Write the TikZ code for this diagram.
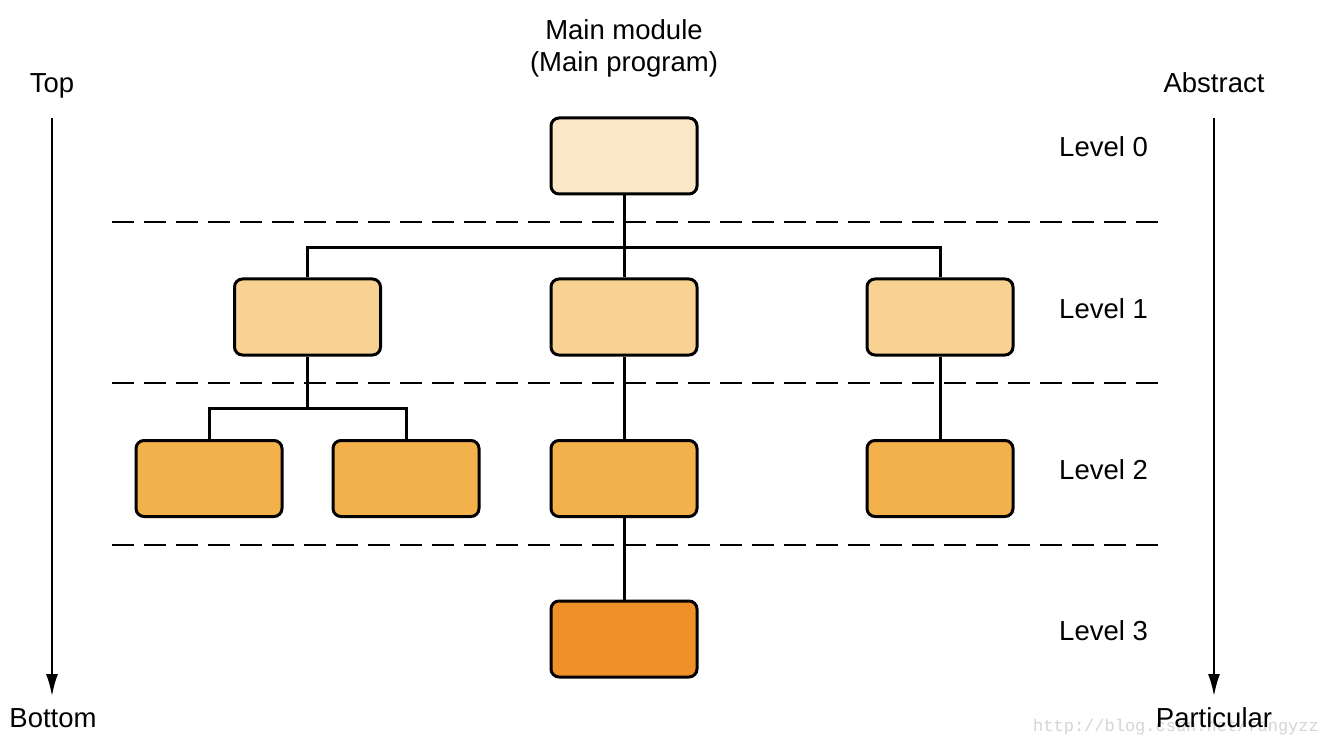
\documentclass[tikz,border=0pt]{standalone}
\usepackage{fontspec}
\setmainfont{Liberation Sans}
\newfontfamily\wmfont{Liberation Mono}
\usetikzlibrary{arrows.meta}
\definecolor{cA}{HTML}{F9E7C5}
\definecolor{cB}{HTML}{F7D292}
\definecolor{cC}{HTML}{F3B14B}
\definecolor{cD}{HTML}{EF9127}
\definecolor{wm}{HTML}{D4D4D4}
\tikzset{
  modbox/.style={draw=black, line width=3pt, rounded corners=8pt, minimum width=146pt, minimum height=76pt, inner sep=0pt},
  conn/.style={draw=black, line width=3pt},
  sep/.style={draw=black, line width=2.8pt, dash pattern=on 22pt off 10pt},
  lbl/.style={font=\fontsize{27.5}{33}\selectfont, inner sep=0pt, anchor=base},
  axis/.style={draw=black, line width=2pt, -{Latex[length=22pt,width=12pt]}}
}
\begin{document}
\begin{tikzpicture}[x=1pt,y=-1pt]
\useasboundingbox (0,0) rectangle (1326,746);
% watermark
\node[font=\wmfont\fontsize{17}{20}\selectfont, text=wm, anchor=base west, inner sep=0pt] (wmk) at (1033,731) {http://blog.csdn.net/fangyzz};
% titles
\node[lbl] (mm) at (624,40) {Main module};
\node[lbl] (mp) at (624,72) {(Main program)};
\node[lbl] (top) at (52,93) {Top};
\node[lbl] (bot) at (53,727) {Bottom};
\node[lbl] (abs) at (1214,93) {Abstract};
\node[lbl] (par) at (1214,727) {Particular};
\node[lbl, anchor=base west] (lv0) at (1059,157) {Level 0};
\node[lbl, anchor=base west] (lv1) at (1059,318) {Level 1};
\node[lbl, anchor=base west] (lv2) at (1059,479) {Level 2};
\node[lbl, anchor=base west] (lv3) at (1059,640) {Level 3};
% axes
\coordinate (ta) at (52,118); \coordinate (tb) at (52,696);
\coordinate (aa) at (1214,118); \coordinate (ab) at (1214,696);
\draw[axis] (ta) -- (tb);
\draw[axis] (aa) -- (ab);
% separators
\coordinate (s1a) at (112,222); \coordinate (s1b) at (1160,222);
\coordinate (s2a) at (112,383); \coordinate (s2b) at (1160,383);
\coordinate (s3a) at (112,545); \coordinate (s3b) at (1160,545);
\draw[sep] (s1a) -- (s1b);
\draw[sep] (s2a) -- (s2b);
\draw[sep] (s3a) -- (s3b);
% boxes
\node[modbox, fill=cA] (l0) at (624,156) {};
\node[modbox, fill=cB] (a1) at (307.5,317) {};
\node[modbox, fill=cB] (b1) at (624,317) {};
\node[modbox, fill=cB] (c1) at (940,317) {};
\node[modbox, fill=cC] (a2) at (209,478.5) {};
\node[modbox, fill=cC] (b2) at (406,478.5) {};
\node[modbox, fill=cC] (c2) at (624,478.5) {};
\node[modbox, fill=cC] (d2) at (940,478.5) {};
\node[modbox, fill=cD] (a3) at (624,639) {};
% connectors
\coordinate (j1) at (624,248);
\coordinate (j2) at (307.5,408);
\draw[conn] (l0.south) -- (b1.north);
\draw[conn] (a1.north) |- (j1) -| (c1.north);
\draw[conn] (a1.south) -- (j2);
\draw[conn] (a2.north) |- (j2) -| (b2.north);
\draw[conn] (b1.south) -- (c2.north);
\draw[conn] (c1.south) -- (d2.north);
\draw[conn] (c2.south) -- (a3.north);
\end{tikzpicture}
\end{document}
